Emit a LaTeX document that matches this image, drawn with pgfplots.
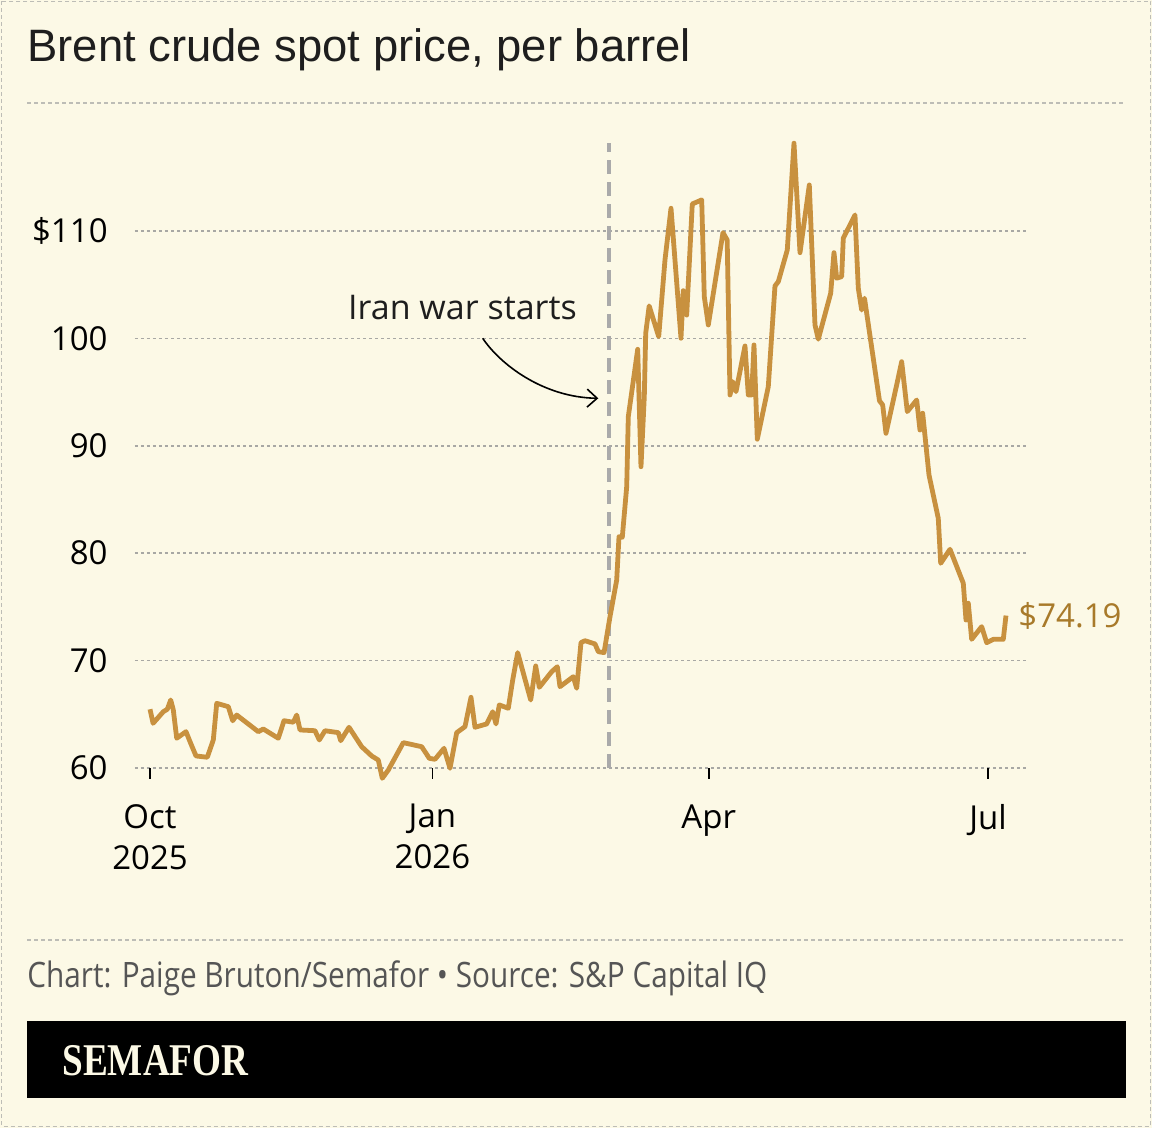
\documentclass[border=0pt]{standalone}
\usepackage{graphicx}
\usepackage{pgfplots}
\pgfplotsset{compat=1.18}
\usepackage{fontspec}
\usetikzlibrary{arrows.meta}
\setmainfont{Open Sans}
\newfontfamily\titlefont{Liberation Sans}
\newfontfamily\logofont{Liberation Serif}
\definecolor{bg}{HTML}{FCF9E6}
\definecolor{linec}{HTML}{C8913F}
\definecolor{labelc}{HTML}{A87A2A}
\definecolor{gridc}{HTML}{A8A8A4}
\definecolor{vlinec}{HTML}{AAAAAA}
\definecolor{sepc}{HTML}{BDBDB6}
\definecolor{footc}{HTML}{555555}
\definecolor{titlec}{HTML}{1E1E1E}
\begin{document}
\begin{tikzpicture}
\fill[bg] (0,0) rectangle (576pt,564pt);
\begin{scope}[x=0.5pt,y=-0.5pt,shift={(0pt,564pt)}]
  \draw[sepc, line width=0.75pt, dash pattern=on 2pt off 1.5pt] (1.5,1.5) rectangle (1150.5,1126.5);
  \draw[sepc, line width=0.75pt, dash pattern=on 2pt off 1.5pt] (27,103) -- (1126,103);
  \draw[sepc, line width=0.75pt, dash pattern=on 2pt off 1.5pt] (27,940) -- (1126,940);
  \node[anchor=base west, inner sep=0pt, text=titlec] at (27,62) {\titlefont\fontsize{22.7}{27}\selectfont Brent crude spot price, per barrel};
  \node[anchor=base west, inner sep=0pt, text=footc] at (27,988) {\resizebox{370pt}{\height}{\fontsize{17.5}{21}\selectfont Chart: Paige Bruton/Semafor • Source: S\&P Capital IQ}};
  \fill[black] (27,1021) rectangle (1126,1098);
  \node[anchor=base west, inner sep=0pt, text=bg] at (62,1076) {\resizebox{93pt}{\height}{\logofont\bfseries\fontsize{22.7}{27}\selectfont SEMAFOR}};
\end{scope}
\begin{axis}[
  at={(67.5pt,180pt)}, anchor=south west,
  scale only axis, width=446.5pt, height=312.5pt,
  xmin=-4.89, xmax=286, ymin=60, ymax=118.19,
  clip=false,
  axis lines=left, axis line style={draw=none,-},
  ytick={60,70,80,90,100,110},
  yticklabels={60,70,80,90,100,\$110},
  ymajorgrids,
  grid style={color=gridc, line width=0.75pt, dash pattern=on 1.65pt off 1.35pt},
  ytick style={draw=none},
  xtick={0,92,182,273},
  xticklabels={Oct\\2025,Jan\\2026,Apr,Jul},
  xtick style={black, line width=0.9pt},
  tick align=outside, major tick length=5.5pt,
  xticklabel style={align=center, font=\fontsize{16.5}{20.5}\selectfont, anchor=north, inner sep=0pt, yshift=-12.5pt},
  yticklabel style={font=\fontsize{16.5}{20}\selectfont, anchor=east, inner sep=0pt, xshift=-8pt},
]
\draw[vlinec, line width=2pt, dash pattern=on 7pt off 4pt] (axis cs:149.5,60) -- (axis cs:149.5,118.19);
\addplot[linec, line width=2.4pt, line join=round, mark=none] coordinates {
(0,65.47) (1,64.16) (4.33,65.24) (5.64,65.47) (6.74,66.33) (7.59,65.40) (8.70,62.77)
(11.73,63.38) (13.03,62.45) (14.98,61.12) (18.66,61.00) (20.62,62.61) (21.73,66.02)
(25.50,65.71) (26.94,64.40) (28.24,64.93) (35.28,63.38) (36.90,63.63) (41.79,62.77)
(43.65,64.40) (46.68,64.26) (47.79,64.93) (48.86,63.54) (53.75,63.47) (55.15,62.61)
(57.00,63.47) (61.34,63.29) (62.12,62.54) (64.82,63.79) (68.96,61.98) (72.21,61.12)
(74.36,60.74) (75.67,59.04) (77.62,59.81) (82.51,62.36) (88.50,61.98) (90.98,60.90)
(92.83,60.81) (95.77,61.83) (97.72,59.97) (99.90,63.29) (102.61,63.85) (104.56,66.58)
(105.86,63.79) (109.67,64.10) (111.63,65.24) (112.70,64.10) (113.78,65.87) (116.71,65.56)
(118.14,68.19) (119.77,70.74) (124.01,66.33) (125.64,69.50) (126.81,67.51) (130.85,68.97)
(132.67,69.43) (133.55,67.57) (137.88,68.50) (138.99,67.42) (140.39,71.67) (141.69,71.85)
(144.95,71.55) (146.03,70.83) (147.90,70.74) (149.84,74.09) (152.02,77.50) (152.77,81.54)
(153.84,81.48) (155.28,86.19) (155.80,92.71) (158.86,98.98) (159.93,88.05) (161.01,94.57)
(161.47,100.47) (162.60,103.02) (165.70,100.16) (167.75,107.30) (169.71,112.11) (172.96,100.01)
(173.71,104.44) (174.82,102.17) (176.64,112.51) (179.71,112.89) (180.55,103.88) (181.86,101.25)
(186.64,109.84) (188.01,109.16) (188.93,94.73) (189.80,95.97) (190.88,95.04) (193.81,99.29)
(194.89,94.73) (195.99,94.73) (196.74,99.39) (197.82,90.61) (201.40,95.50) (203.58,104.88)
(204.66,105.28) (207.59,108.23) (209.77,118.17) (211.73,107.98) (214.76,114.28) (216.61,101.25)
(217.69,99.92) (221.73,104.20) (222.80,107.98) (223.68,105.60) (225.31,105.75) (225.83,109.32)
(229.64,111.49) (230.72,104.66) (231.82,102.64) (232.74,103.73) (237.62,94.19) (238.66,93.80)
(239.74,91.16) (243.22,95.66) (244.85,97.83) (246.68,93.18) (249.74,94.26) (250.81,91.47)
(251.69,93.03) (253.75,87.28) (256.77,83.25) (257.56,79.06) (260.59,80.36) (264.92,77.20)
(265.80,73.78) (266.55,75.34) (267.65,71.98) (270.91,73.16) (272.54,71.67) (274.69,71.98)
(277.95,71.98) (278.83,74.19)
};
\node[anchor=base, font=\fontsize{17}{20}\selectfont, inner sep=0pt, text=titlec] at (axis cs:101.8,101.78) {Iran war starts};
\draw[black, line width=0.8pt, -{Straight Barb[length=5pt,width=9pt]}] (axis cs:108.37,100.01) .. controls (axis cs:114.0,97.6) and (axis cs:128,94.5) .. (axis cs:146.03,94.42);
\node[anchor=west, font=\fontsize{16.5}{20}\selectfont, inner sep=0pt, text=labelc, xshift=6pt] at (axis cs:278.83,74.19) {\$74.19};
\end{axis}
\end{tikzpicture}
\end{document}
